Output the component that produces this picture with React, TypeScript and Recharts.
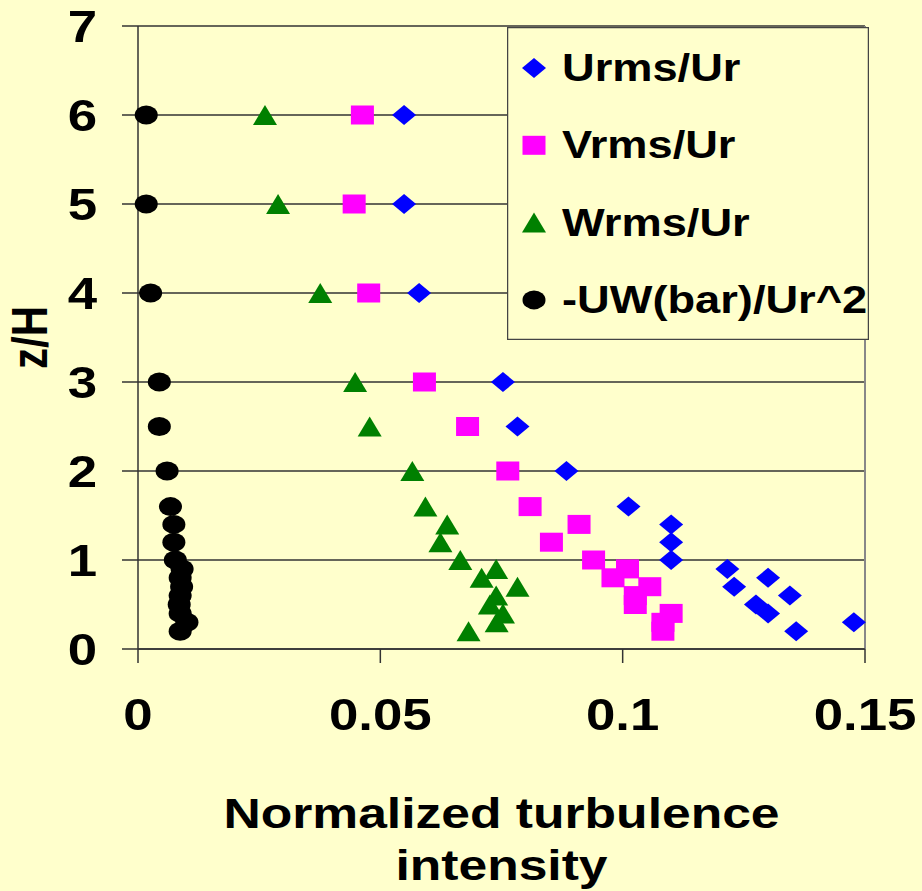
import React from 'react';
import { ScatterChart, Scatter, XAxis, YAxis, CartesianGrid, Legend, ReferenceLine, Label } from 'recharts';

// heights z/H shared by all four profiles
const heights = [6, 5, 4, 3, 2.5, 2, 1.6, 1.4, 1.2, 1, 0.9, 0.8, 0.7, 0.6, 0.5, 0.4, 0.3, 0.2];
const urms = [0.0549, 0.0549, 0.058, 0.0753, 0.0783, 0.0884, 0.1012, 0.11, 0.11, 0.11, 0.1216, 0.13, 0.123, 0.1345, 0.1275, 0.13, 0.1477, 0.1358];
const vrms = [0.0463, 0.0446, 0.0476, 0.0591, 0.068, 0.0763, 0.0809, 0.091, 0.0853, 0.094, 0.101, 0.098, 0.1056, 0.1026, 0.1026, 0.11, 0.1083, 0.1083];
const wrms = [0.0262, 0.0289, 0.0376, 0.0448, 0.0478, 0.0566, 0.0593, 0.0638, 0.0624, 0.0665, 0.0739, 0.0709, 0.0783, 0.0739, 0.0726, 0.0753, 0.074, 0.0682];
const uwbar = [0.0017, 0.0017, 0.0026, 0.0044, 0.0044, 0.006, 0.0067, 0.0074, 0.0074, 0.0077, 0.0091, 0.0087, 0.009, 0.0087, 0.0085, 0.0087, 0.0101, 0.0087];

const xTicks = [0, 0.05, 0.1, 0.15];
const yTicks = [0, 1, 2, 3, 4, 5, 6, 7];

const BG = '#FFFFCC';
const FONT = "'Liberation Sans', Arial, sans-serif";
const STRETCH = 1.2;

const toPoints = (xs: number[]) => xs.map((x, i) => ({ x, y: heights[i] }));

function Diamond({ cx, cy, fill }: any) {
  return <polygon points={`${cx - 12},${cy} ${cx},${cy - 10} ${cx + 12},${cy} ${cx},${cy + 10}`} fill={fill} />;
}
function Square({ cx, cy, fill }: any) {
  return <rect x={cx - 11.5} y={cy - 9.5} width={23} height={19} fill={fill} />;
}
function Triangle({ cx, cy, fill }: any) {
  return <polygon points={`${cx - 12},${cy + 10} ${cx},${cy - 10} ${cx + 12},${cy + 10}`} fill={fill} />;
}
function Dot({ cx, cy, fill }: any) {
  return <ellipse cx={cx} cy={cy} rx={11.5} ry={9.5} fill={fill} />;
}

const series = [
  { name: 'Urms/Ur', data: urms, color: '#0000FF', shape: Diamond },
  { name: 'Vrms/Ur', data: vrms, color: '#FF00FF', shape: Square },
  { name: 'Wrms/Ur', data: wrms, color: '#008000', shape: Triangle },
  { name: '-UW(bar)/Ur^2', data: uwbar, color: '#000000', shape: Dot },
];

function YTick({ x, y, payload }: any) {
  return (
    <text transform={`translate(${x},${y}) scale(${STRETCH},1)`} textAnchor="end" dy="0.355em"
      fontSize={44} fontWeight="bold" fontFamily={FONT} fill="#000">
      {payload.value}
    </text>
  );
}

function XTick({ x, y, payload }: any) {
  return (
    <text transform={`translate(${x},${y + 32}) scale(${STRETCH},1)`} textAnchor="middle"
      fontSize={44} fontWeight="bold" fontFamily={FONT} fill="#000">
      {payload.value}
    </text>
  );
}

function XTitle({ viewBox }: any) {
  const cx = viewBox.x + viewBox.width / 2;
  return (
    <g fontSize={43} fontWeight="bold" fontFamily={FONT} fill="#000">
      <text transform={`translate(${cx},${viewBox.y + 179}) scale(${STRETCH},1)`} textAnchor="middle">Normalized turbulence</text>
      <text transform={`translate(${cx},${viewBox.y + 231}) scale(${STRETCH},1)`} textAnchor="middle">intensity</text>
    </g>
  );
}

function YTitle({ viewBox }: any) {
  const cy = viewBox.y + viewBox.height / 2;
  return (
    <text transform={`translate(47,${cy}) scale(${STRETCH},1) rotate(-90)`} textAnchor="middle"
      fontSize={42} fontWeight="bold" fontFamily={FONT} fill="#000">
      z/H
    </text>
  );
}

// legend keeps the series order (Recharts sorts its payload by name)
function LegendBox() {
  return (
    <svg width={362} height={313} style={{ display: 'block' }}>
      <rect x={0.5} y={0.5} width={361} height={312} fill={BG} stroke="#444" strokeWidth={1.5} />
      {series.map((s, i) => {
        const Shape = s.shape;
        const cy = 41 + i * 77.3;
        return (
          <g key={s.name}>
            <Shape cx={27} cy={cy} fill={s.color} />
            <text transform={`translate(55,${cy + 13}) scale(1.16,1)`} fontSize={39} fontWeight="bold"
              fontFamily={FONT} fill="#000">
              {s.name}
            </text>
          </g>
        );
      })}
    </svg>
  );
}

export default function App() {
  return (
    <div style={{ position: 'absolute', left: 0, top: 0, width: 922, height: 891, background: BG }}>
      <ScatterChart width={922} height={891} margin={{ top: 26, right: 57, left: 0, bottom: 0 }}>
        <CartesianGrid horizontal vertical={false} stroke="#333" strokeWidth={1.5} />
        <XAxis
          type="number"
          dataKey="x"
          domain={[0, 0.15]}
          ticks={xTicks}
          height={242}
          tickSize={14}
          tickMargin={35}
          stroke="#333"
          strokeWidth={1.5}
          tick={<XTick />}
          interval={0}
        >
          <Label content={<XTitle />} />
        </XAxis>
        <YAxis
          type="number"
          dataKey="y"
          domain={[0, 7]}
          ticks={yTicks}
          width={138}
          tickSize={16}
          tickMargin={25}
          stroke="#333"
          strokeWidth={1.5}
          tick={<YTick />}
          interval={0}
        >
          <Label content={<YTitle />} />
        </YAxis>
        <ReferenceLine x={0.15} stroke="#888" strokeWidth={2} />
        {series.map((s) => (
          <Scatter
            key={s.name}
            name={s.name}
            data={toPoints(s.data)}
            fill={s.color}
            shape={(p: any) => <s.shape cx={p.cx} cy={p.cy} fill={s.color} />}
            isAnimationActive={false}
          />
        ))}
        <Legend
          layout="vertical"
          align="center"
          verticalAlign="middle"
          content={<LegendBox />}
          wrapperStyle={{ position: 'absolute', left: 507, top: 27, width: 362, height: 313 }}
        />
      </ScatterChart>
    </div>
  );
}
